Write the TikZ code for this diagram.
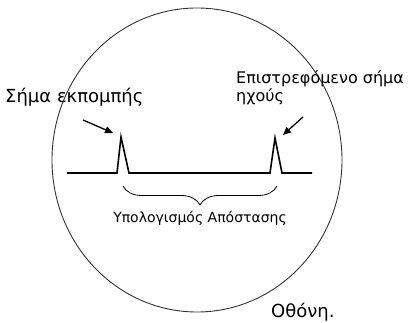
\documentclass[tikz,border=0pt]{standalone}
\usepackage{fontspec}
\setmainfont{DejaVu Sans}
\usetikzlibrary{arrows.meta,decorations.pathreplacing}

\begin{document}
\begin{tikzpicture}[
    x=1pt, y=-1pt, >={Triangle[length=8pt,width=7pt]},
    lbl/.style={font=\fontsize{18}{18}\selectfont, inner sep=0pt},
    lblb/.style={font=\fontsize{16}{18}\selectfont, inner sep=0pt},
    sml/.style={font=\fontsize{14}{14}\selectfont, inner sep=0pt},
    sig/.style={line width=1.6pt, line join=miter},
    ptr/.style={->, line width=1.3pt},
    scr/.style={line width=0.9pt, draw=black!80}
  ]
  \path[use as bounding box] (0,0) rectangle (408,323);
  % screen
  \draw[scr] (197,160) ellipse [x radius=145, y radius=152];
  % trace with the two pulses
  \coordinate (s0) at (67,173);
  \coordinate (p1) at (121,137);
  \coordinate (p2) at (275,138);
  \coordinate (s1) at (312,173);
  \draw[sig] (s0) -- (117,173) -- (p1) -- (129,173) -- (270,173) -- (p2) -- (282,173) -- (s1);
  % labels
  \node[lbl, anchor=base west] (tx) at (5,103) {Σήμα εκπομπής};
  \node[lblb, anchor=base west, align=left] (rx) at (236,102) {Επιστρεφόμενο σήμα\\ηχούς};
  \coordinate (a1) at (83,120);
  \coordinate (a2) at (303,117);
  \draw[ptr] (a1) -- (113,133);
  \draw[ptr] (a2) -- (283,135);
  % distance brace
  \draw[line width=0.8pt, decorate, decoration={brace, amplitude=19pt}] (277,186) -- (123,186)
    node[sml, midway, below=25pt] (dist) {Υπολογισμός Απόστασης};
  \node[lbl, anchor=base west] (scrn) at (271,318) {Οθόνη.};
\end{tikzpicture}
\end{document}
